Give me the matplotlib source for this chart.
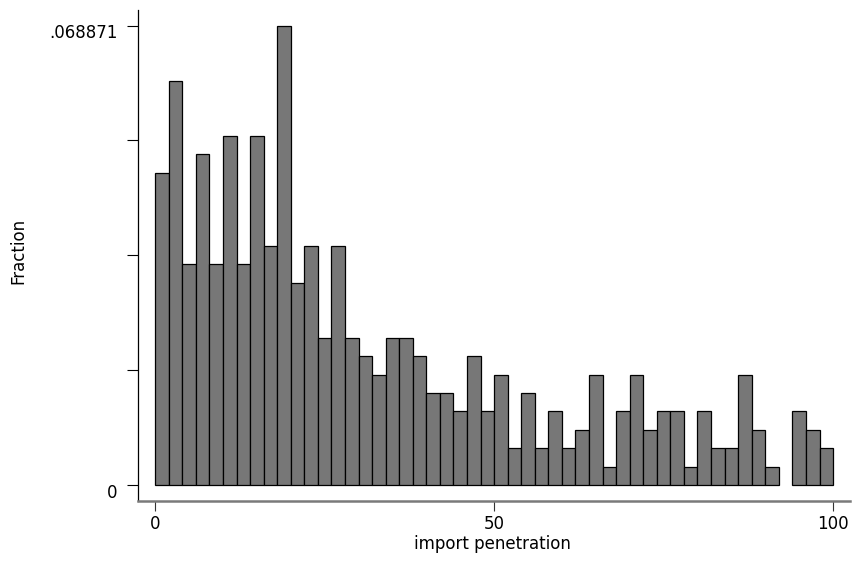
import numpy as np
import matplotlib
matplotlib.use("Agg")
import matplotlib.pyplot as plt
from matplotlib.transforms import ScaledTranslation

# histogram data: 2-unit bins from 0 to 100, counts
bin_left = np.arange(0, 100, 2)
counts = [17, 22, 12, 18, 12, 19, 12, 19, 13, 25,
          11, 13, 8, 13, 8, 7, 6, 8, 8, 7,
          5, 5, 4, 7, 4, 6, 2, 5, 2, 4,
          2, 3, 6, 1, 4, 6, 3, 4, 4, 1,
          4, 2, 2, 6, 3, 1, 0, 4, 3, 2]
n_total = 363
x_ticks = [0, 50, 100]

frac = np.array(counts) / n_total
ymax = frac.max()

plt.rcParams['font.family'] = ['DejaVu Sans']

fig = plt.figure(figsize=(8.53, 5.61), dpi=100)
ax = fig.add_axes([0.1621, 0.1070, 0.8344, 0.8752])

keep = frac > 0
ax.bar(bin_left[keep], frac[keep], width=2, align='edge',
       color='#777777', edgecolor='black', linewidth=0.9)

ax.set_xlim(-2.5, 102.5)
ax.set_ylim(-0.0024, 0.0712)

# y ticks: 5 ticks, only the ends labelled
yt = np.linspace(0, ymax, 5)
ylabels = ['0', '', '', '', f"{ymax:.6f}".lstrip('0')]
ax.set_yticks(yt)
ax.set_yticklabels(ylabels)
ax.set_xticks(x_ticks)
ax.set_xticklabels([str(t) for t in x_ticks])

ax.tick_params(axis='y', direction='out', length=8, width=0.8, pad=7,
               labelsize=12, color='black')
ax.tick_params(axis='x', direction='out', length=7, width=0.8, pad=3,
               labelsize=12, color='#333333')

# shift the y tick labels a bit down, like the original
off = ScaledTranslation(0, -4 / 72, fig.dpi_scale_trans)
for lab in ax.get_yticklabels():
    lab.set_transform(lab.get_transform() + off)

for side in ['top', 'right']:
    ax.spines[side].set_visible(False)
ax.spines['left'].set_color('black')
ax.spines['left'].set_linewidth(0.9)
ax.spines['bottom'].set_color('#7a7a7a')
ax.spines['bottom'].set_linewidth(1.8)

ax.set_ylabel("Fraction", fontsize=12, va='center')
ax.yaxis.set_label_coords(-0.169, 0.509)
ax.set_xlabel("import penetration", fontsize=12, va='center')
ax.xaxis.set_label_coords(0.498, -0.088)

fig.savefig("out.png", dpi=100)
